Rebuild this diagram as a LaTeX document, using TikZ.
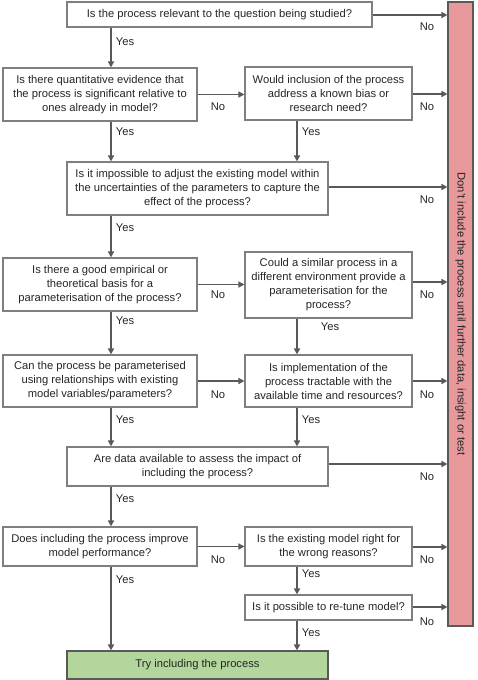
\documentclass[tikz,border=0pt]{standalone}
\usepackage{fontspec}
\setmainfont{Liberation Sans}
\usetikzlibrary{arrows.meta,calc}
\definecolor{linegray}{HTML}{595959}
\definecolor{boxgray}{HTML}{7F7F7F}
\definecolor{txtgray}{HTML}{262626}
\definecolor{barred}{HTML}{E8999B}
\definecolor{trygreen}{HTML}{B3D69D}
\tikzset{
  qbox/.style={draw=boxgray, line width=1.1pt, fill=white, align=center, inner sep=0pt,
    font=\fontsize{11.2}{14}\selectfont, text=txtgray},
  arr/.style={draw=linegray, line width=1.8pt, -{Triangle[length=6pt,width=6pt]}},
  lbl/.style={font=\fontsize{11.2}{14}\selectfont, text=txtgray, inner sep=0pt}
}
\begin{document}
\begin{tikzpicture}[x=1pt,y=-1pt]
\useasboundingbox (0,0) rectangle (478,680);
% boxes
\node[qbox, minimum width=305pt, minimum height=25pt] (b1) at (219.5,14.5) {Is the process relevant to the question being studied?};
\node[qbox, minimum width=194pt, minimum height=53pt] (b2) at (100,94.5) {Is there quantitative evidence that\\the process is significant relative to\\ones already in model?};
\node[qbox, minimum width=167pt, minimum height=53pt] (b3) at (328.5,93.5) {Would inclusion of the process\\address a known bias or\\research need?};
\node[qbox, minimum width=261pt, minimum height=53pt] (b4) at (197.5,188.5) {Is it impossible to adjust the existing model within\\the uncertainties of the parameters to capture the\\effect of the process?};
\node[qbox, minimum width=194pt, minimum height=53pt] (b5) at (100,284.5) {Is there a good empirical or\\theoretical basis for a\\parameterisation of the process?};
\node[qbox, minimum width=167pt, minimum height=66pt] (b6) at (328.5,285) {Could a similar process in a\\different environment provide a\\parameterisation for the\\process?};
\node[qbox, minimum width=194pt, minimum height=52pt] (b7) at (100,381) {Can the process be parameterised\\using relationships with existing\\model variables/parameters?};
\node[qbox, minimum width=167pt, minimum height=52pt] (b8) at (328.5,381) {Is implementation of the\\process tractable with the\\available time and resources?};
\node[qbox, minimum width=261pt, minimum height=39pt] (b9) at (197.5,466.5) {Are data available to assess the impact of\\including the process?};
\node[qbox, minimum width=194pt, minimum height=39pt] (b10) at (100,546.5) {Does including the process improve\\model performance?};
\node[qbox, minimum width=167pt, minimum height=39pt] (b11) at (328.5,546.5) {Is the existing model right for\\the wrong reasons?};
\node[qbox, minimum width=167pt, minimum height=25pt] (b12) at (328.5,607.5) {Is it possible to re-tune model?};
\node[qbox, fill=trygreen, draw=linegray, minimum width=261pt, minimum height=28pt] (try) at (197.5,665) {Try including the process};
\node[qbox, fill=barred, draw=linegray, minimum width=25pt, minimum height=624pt] (red) at (460.5,314) {};
\node[lbl, rotate=-90] (redtxt) at (red.center) {Don’t include the process until further data, insight or test};
% column coordinates
\coordinate (cl) at (111,0);
\coordinate (cr) at (297,0);
% Yes arrows left
\draw[arr] (b1.south -| cl) -- (b2.north -| cl);
\draw[arr] (b2.south -| cl) -- (b4.north -| cl);
\draw[arr] (b4.south -| cl) -- (b5.north -| cl);
\draw[arr] (b5.south -| cl) -- (b7.north -| cl);
\draw[arr] (b7.south -| cl) -- (b9.north -| cl);
\draw[arr] (b9.south -| cl) -- (b10.north -| cl);
\draw[arr] (b10.south -| cl) -- (try.north -| cl);
% Yes arrows right
\draw[arr] (b3.south -| cr) -- (b4.north -| cr);
\draw[arr] (b6.south -| cr) -- (b8.north -| cr);
\draw[arr] (b8.south -| cr) -- (b9.north -| cr);
\draw[arr] (b11.south -| cr) -- (b12.north -| cr);
\draw[arr] (b12.south -| cr) -- (try.north -| cr);
% No arrows middle
\draw[arr] (b2.east) -- (b2.east -| b3.west);
\draw[arr] (b5.east) -- (b5.east -| b6.west);
\draw[arr] (b7.east) -- (b7.east -| b8.west);
\draw[arr] (b10.east) -- (b10.east -| b11.west);
% No arrows to bar
\coordinate (n1) at (0,15);
\coordinate (n3) at (0,94);
\coordinate (n4) at (0,187);
\coordinate (n6) at (0,282);
\coordinate (n8) at (0,381);
\coordinate (n9) at (0,464);
\coordinate (n11) at (0,547);
\coordinate (n12) at (0,607);
\draw[arr] (b1.east |- n1) -- (red.west |- n1);
\draw[arr] (b3.east |- n3) -- (red.west |- n3);
\draw[arr] (b4.east |- n4) -- (red.west |- n4);
\draw[arr] (b6.east |- n6) -- (red.west |- n6);
\draw[arr] (b8.east |- n8) -- (red.west |- n8);
\draw[arr] (b9.east |- n9) -- (red.west |- n9);
\draw[arr] (b11.east |- n11) -- (red.west |- n11);
\draw[arr] (b12.east |- n12) -- (red.west |- n12);
% Yes labels
\node[lbl] (y1) at (125,42) {Yes};
\node[lbl] (y2) at (125,132) {Yes};
\node[lbl] (y3) at (311,132) {Yes};
\node[lbl] (y4) at (125,228) {Yes};
\node[lbl] (y5) at (125,321) {Yes};
\node[lbl] (y6) at (330,327) {Yes};
\node[lbl] (y7) at (125,420) {Yes};
\node[lbl] (y8) at (311,420) {Yes};
\node[lbl] (y9) at (125,499) {Yes};
\node[lbl] (y10) at (125,580) {Yes};
\node[lbl] (y11) at (311,574) {Yes};
\node[lbl] (y12) at (311,633) {Yes};
% No labels
\node[lbl] (m1) at (218,107) {No};
\node[lbl] (m2) at (218,295) {No};
\node[lbl] (m3) at (218,395) {No};
\node[lbl] (m4) at (218,560) {No};
\node[lbl] (r1) at (427,27) {No};
\node[lbl] (r2) at (427,107) {No};
\node[lbl] (r3) at (427,200) {No};
\node[lbl] (r4) at (427,295) {No};
\node[lbl] (r5) at (427,395) {No};
\node[lbl] (r6) at (427,477) {No};
\node[lbl] (r7) at (427,560) {No};
\node[lbl] (r8) at (427,622) {No};
\end{tikzpicture}
\end{document}
